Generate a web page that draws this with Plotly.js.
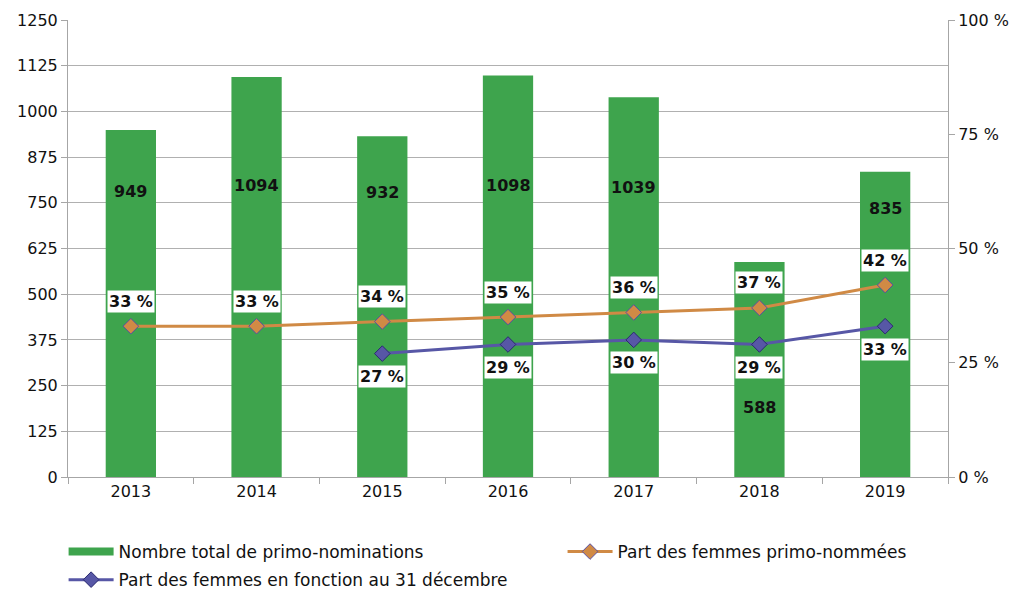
<!DOCTYPE html>
<html><head><meta charset="utf-8">
<script src="https://cdn.plot.ly/plotly-3.0.1.min.js"></script>
<style>html,body{margin:0;padding:0;background:#fff}#chart{width:1013px;height:589px}</style>
</head><body><div id="chart"></div>
<script>
const years = ['2013','2014','2015','2016','2017','2018','2019'];
const totalNominations = [949, 1094, 932, 1098, 1039, 588, 835];
const partPrimoNommees = [33, 33, 34, 35, 36, 37, 42];
const partEnFonction = [null, null, 27, 29, 30, 29, 33];
const leftTicks = [0,125,250,375,500,625,750,875,1000,1125,1250];
const rightTicks = [0,25,50,75,100];

const GREEN = '#3ea44d', ORANGE = '#d08a45', BLUE = '#5757a6';
const FONT = 'DejaVu Sans, Noto Sans, sans-serif';

// vertical placement of bar value labels (style only)
const barLabelAt = [780, 796, 777, 796, 793, 191, 735];

const traces = [
  {type:'bar', x:years, y:totalNominations, marker:{color:GREEN}, width:0.4, showlegend:false, hoverinfo:'skip'},
  {type:'scatter', mode:'lines', x:[years[0]], y:[null], line:{color:GREEN, width:8}, name:'Nombre total de primo-nominations', legend:'legend', legendgroup:'a'},
  {type:'scatter', mode:'lines+markers', x:years, y:partPrimoNommees, yaxis:'y2', name:'Part des femmes primo-nommées', legend:'legend2',
   line:{color:ORANGE, width:3}, marker:{symbol:'diamond', size:12, color:ORANGE, line:{color:'#5a4fa0', width:1}}},
  {type:'scatter', mode:'lines+markers', x:years, y:partEnFonction, yaxis:'y2', name:'Part des femmes en fonction au 31 décembre', legend:'legend', legendgroup:'b',
   line:{color:BLUE, width:3}, marker:{symbol:'diamond', size:12, color:BLUE, line:{color:'#2a2a70', width:1}}}
];

const labelFont = {size:16, color:'#111', family:FONT};
const annotations = [];
years.forEach((yr,i)=>{
  annotations.push({x:i, y:barLabelAt[i], yref:'y', text:'<b>'+totalNominations[i]+'</b>', showarrow:false, font:labelFont});
  annotations.push({x:i, y:partPrimoNommees[i], yref:'y2', yshift:25, text:'<b>'+partPrimoNommees[i]+' %</b>', showarrow:false,
    bgcolor:'#fff', borderpad:1, font:labelFont});
  if (partEnFonction[i] !== null)
    annotations.push({x:i, y:partEnFonction[i], yref:'y2', yshift:-23, text:'<b>'+partEnFonction[i]+' %</b>', showarrow:false,
      bgcolor:'#fff', borderpad:1, font:labelFont});
});

const tickFont = {size:16, color:'#111', family:FONT};
const legendFont = {size:17, color:'#111', family:FONT};
const layout = {
  width:1013, height:589,
  margin:{l:68, r:65, t:20, b:112},
  paper_bgcolor:'#fff', plot_bgcolor:'#fff',
  font:{family:FONT, size:16, color:'#111'},
  bargap:0.6,
  xaxis:{type:'category', categoryarray:years, range:[-0.5, years.length-0.5], showline:true, linecolor:'#a6a6a6', ticks:'outside', tickson:'boundaries', ticklen:6, tickcolor:'#a6a6a6',
    showgrid:false, tickfont:tickFont, fixedrange:true},
  yaxis:{range:[0,1250], tickvals:leftTicks, showline:true, linecolor:'#a6a6a6', ticks:'outside', ticklen:6, tickcolor:'#a6a6a6',
    showgrid:true, gridcolor:'#b0b0b0', gridwidth:1, zeroline:false, tickfont:tickFont},
  yaxis2:{range:[0,100], overlaying:'y', side:'right', tickvals:rightTicks, ticktext:rightTicks.map(v=>v+' %'),
    showline:true, linecolor:'#a6a6a6', ticks:'outside', ticklen:6, tickcolor:'#a6a6a6', showgrid:false, zeroline:false, tickfont:tickFont},
  legend:{orientation:'v', xref:'paper', x:-0.005, xanchor:'left', yref:'container', y:1-534/589, yanchor:'top', font:legendFont, itemwidth:45, tracegroupgap:3, traceorder:'grouped', bgcolor:'rgba(0,0,0,0)'},
  legend2:{orientation:'v', xref:'paper', x:0.562, xanchor:'left', yref:'container', y:1-534/589, yanchor:'top', font:legendFont, itemwidth:45, bgcolor:'rgba(0,0,0,0)'},
  annotations:annotations,
  showlegend:true
};

Plotly.newPlot('chart', traces, layout, {displayModeBar:false, staticPlot:true});
</script>
</body></html>
